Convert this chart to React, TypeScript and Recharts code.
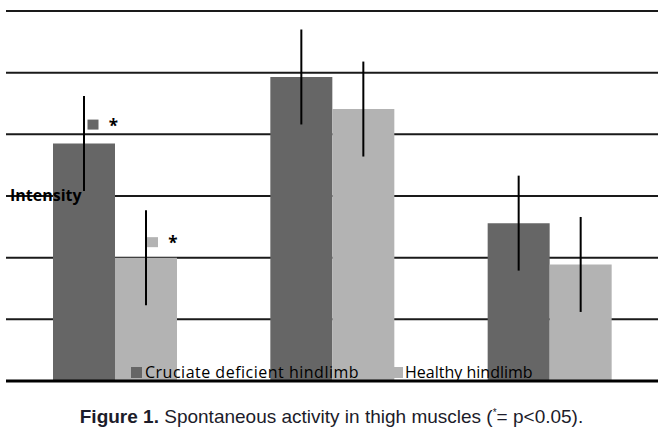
import React from 'react';
import {
  BarChart,
  Bar,
  XAxis,
  YAxis,
  CartesianGrid,
  ErrorBar,
  LabelList,
  ReferenceLine,
} from 'recharts';

const groups = ['Muscle 1', 'Muscle 2', 'Muscle 3'];
const cruciate = [3.85, 4.93, 2.56];
const healthy = [2.0, 4.41, 1.89];
const cruciateErr = [0.77, 0.77, 0.77];
const healthyErr = [0.77, 0.77, 0.77];
const cruciateSig = ['*', '', ''];
const healthySig = ['*', '', ''];
const yTicks = [0, 1, 2, 3, 4, 5, 6];
const seriesNames = ['Cruciate deficient hindlimb', 'Healthy hindlimb'];

const DARK = '#666666';
const LIGHT = '#b3b3b3';

const data = groups.map((g, i) => ({
  group: g,
  cruciate: cruciate[i],
  healthy: healthy[i],
  cruciateErr: cruciateErr[i],
  healthyErr: healthyErr[i],
  cruciateSig: cruciateSig[i],
  healthySig: healthySig[i],
}));

// little legend-key square + asterisk above a bar
const sigMark = (color: string, dx: number, dy: number) => (props: any) => {
  const { x, y, width, value } = props;
  if (!value) return null;
  const cx = Number(x) + Number(width) / 2;
  const top = Number(y);
  return (
    <g>
      <rect x={cx + dx} y={top + dy} width={11} height={10} fill={color} />
      <text
        x={cx + dx + 26}
        y={top + dy + 12}
        textAnchor="middle"
        fontFamily="'Open Sans', sans-serif"
        fontWeight={700}
        fontSize={17}
        fill="#000"
      >
        {value}
      </text>
    </g>
  );
};

export default function App() {
  return (
    <div
      style={{
        position: 'absolute',
        left: 0,
        top: 0,
        width: 663,
        height: 429,
        background: '#fff',
      }}
    >
      <BarChart
        width={663}
        height={429}
        data={data}
        margin={{ top: 11, right: 5, bottom: 48, left: 6 }}
        barCategoryGap={47}
        barGap={0}
      >
        <CartesianGrid vertical={false} stroke="#1a1a1a" strokeWidth={2} />
        <XAxis dataKey="group" hide />
        <YAxis
          domain={[0, 6]}
          ticks={yTicks}
          width={0}
          tick={{ fill: 'transparent', fontSize: 1 }}
          tickLine={false}
          axisLine={false}
        />
        <Bar dataKey="cruciate" fill={DARK} isAnimationActive={false}>
          <ErrorBar dataKey="cruciateErr" width={0} stroke="#000" strokeWidth={2} />
          <LabelList dataKey="cruciateSig" content={sigMark(DARK, 3.5, -24)} />
        </Bar>
        <Bar dataKey="healthy" fill={LIGHT} isAnimationActive={false}>
          <ErrorBar dataKey="healthyErr" width={0} stroke="#000" strokeWidth={2} />
          <LabelList dataKey="healthySig" content={sigMark(LIGHT, 1, -20.5)} />
        </Bar>
        <ReferenceLine y={0} stroke="#000" strokeWidth={3} />
      </BarChart>

      <div
        style={{
          position: 'absolute',
          left: 10,
          top: 185,
          fontFamily: "'Open Sans', sans-serif",
          fontWeight: 700,
          fontSize: 16,
          lineHeight: '20px',
          color: '#000',
        }}
      >
        Intensity
      </div>

      <div
        style={{
          position: 'absolute',
          left: 131,
          top: 362,
          display: 'flex',
          alignItems: 'center',
          fontFamily: "'Open Sans', sans-serif",
          fontSize: 16,
          letterSpacing: 0.5,
          lineHeight: '20px',
          color: '#000',
        }}
      >
        <span style={{ width: 11, height: 11, background: DARK, marginRight: 3 }} />
        <span style={{ marginRight: 33 }}>{seriesNames[0]}</span>
        <span style={{ width: 11, height: 11, background: LIGHT, marginRight: 2 }} />
        <span style={{ letterSpacing: 0 }}>{seriesNames[1]}</span>
      </div>

      <div
        style={{
          position: 'absolute',
          left: 0,
          width: 663,
          top: 402,
          textAlign: 'center',
          fontFamily: "'Liberation Sans', Arial, sans-serif",
          fontSize: 19,
          lineHeight: '22px',
          color: '#1c1c2a',
        }}
      >
        <b>Figure 1.</b> Spontaneous activity in thigh muscles (<sup style={{ fontSize: 10 }}>*</sup>= p&lt;0.05).
      </div>
    </div>
  );
}
